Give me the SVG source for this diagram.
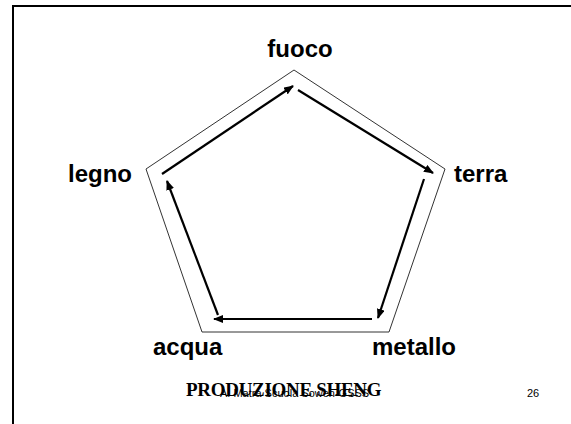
<svg xmlns="http://www.w3.org/2000/svg" width="571" height="424" viewBox="0 0 571 424">
<style>
.lbl{font-family:"Liberation Sans",Arial,sans-serif;font-weight:bold;font-size:24px;fill:#000}
.arr{stroke:#000;stroke-width:2.2;fill:none;marker-end:url(#ah)}
.small{font-family:"Liberation Sans",Arial,sans-serif;font-size:11px;fill:#000}
</style>
<defs>
<marker id="ah" markerUnits="userSpaceOnUse" markerWidth="10" markerHeight="8" refX="9" refY="4" orient="auto">
<path d="M0,0 L10,4 L0,8 Z" fill="#000"/>
</marker>
</defs>
<rect x="13" y="6" width="600" height="500" fill="#fff" stroke="#000" stroke-width="2"/>
<g id="pentagon">
<polygon points="294,70 445,169 389,332 202,332 146,169" fill="none" stroke="#333" stroke-width="1"/>
</g>
<g id="connectors">
<line class="arr" x1="162" y1="174" x2="293" y2="86"/>
<line class="arr" x1="298" y1="90" x2="433" y2="173"/>
<line class="arr" x1="424" y1="179" x2="378" y2="318"/>
<line class="arr" x1="372" y1="319" x2="214" y2="319"/>
<line class="arr" x1="218" y1="315" x2="167" y2="181"/>
</g>
<g id="fuoco"><text class="lbl" x="300" y="57" text-anchor="middle">fuoco</text></g>
<g id="terra"><text class="lbl" x="454" y="182">terra</text></g>
<g id="metallo"><text class="lbl" x="372" y="355">metallo</text></g>
<g id="acqua"><text class="lbl" x="153" y="355">acqua</text></g>
<g id="legno"><text class="lbl" x="68" y="182">legno</text></g>
<text x="186" y="396" font-family="'Liberation Serif','Times New Roman',serif" font-weight="bold" font-size="19" letter-spacing="-0.3">PRODUZIONE SHENG</text>
<text class="small" x="220" y="397">A. Matra Scuola Sowen-GSSS</text>
<text class="small" x="527" y="397">26</text>
</svg>
